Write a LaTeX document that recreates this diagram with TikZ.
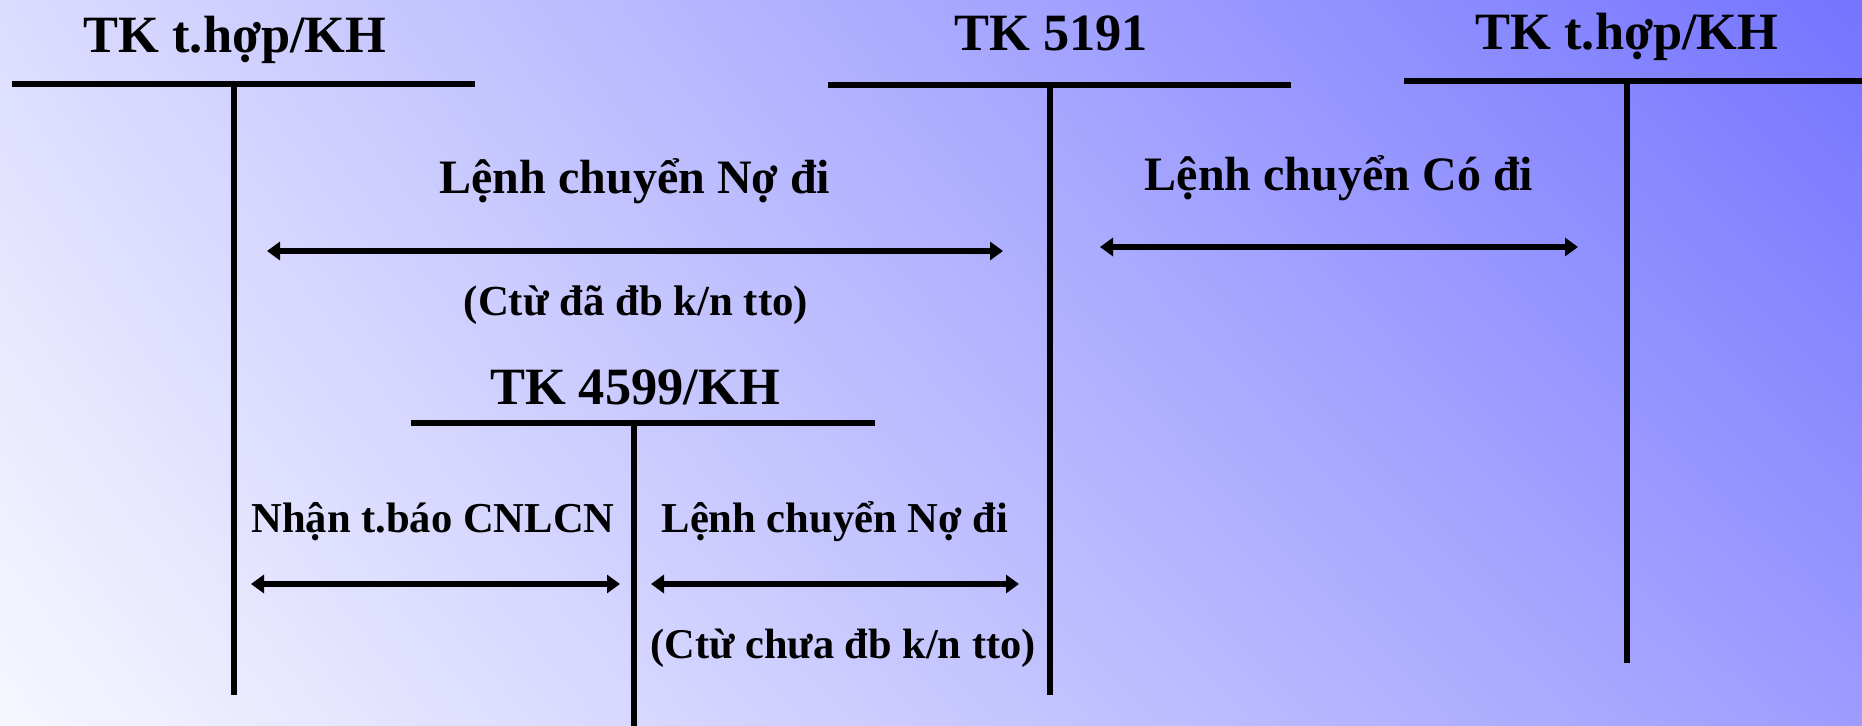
\documentclass[tikz,border=0pt]{standalone}
\usepackage{fontspec}
\setmainfont{Liberation Serif}
\usetikzlibrary{arrows.meta,shadings}
\definecolor{bgul}{RGB}{220,220,255}
\definecolor{bgur}{RGB}{116,116,255}
\definecolor{bgll}{RGB}{247,247,255}
\definecolor{bglr}{RGB}{156,156,255}
\tikzset{
  acctitle/.style={font=\fontsize{26.2}{30}\selectfont\bfseries, anchor=base, inner sep=0pt},
  bigtxt/.style={font=\fontsize{24}{28}\selectfont\bfseries, anchor=base, inner sep=0pt},
  smalltxt/.style={font=\fontsize{21.3}{25}\selectfont\bfseries, anchor=base, inner sep=0pt},
  tbar/.style={line width=3pt},
  tstem/.style={line width=3pt},
  flow/.style={{Triangle[length=6.5pt,width=9pt]}-{Triangle[length=6.5pt,width=9pt]}, line width=2.6pt}
}

\begin{document}
\begin{tikzpicture}[x=0.5pt, y=-0.5pt]
            \useasboundingbox (0,0) rectangle (1862,726);
            \shade[upper left=bgul, upper right=bgur, lower left=bgll, lower right=bglr] (0,0) rectangle (1862,726);

            % T accounts
            \node [acctitle] (kh1) at (235,53) {TK t.hợp/KH};
            \draw[tbar] (12,84) -- (475,84);
            \draw[tstem] (234,84) -- (234,695);

            \node [acctitle] (tk5191) at (1051,51) {TK 5191};
            \draw[tbar] (828,85) -- (1291,85);
            \draw[tstem] (1050,85) -- (1050,695);

            \node [acctitle] (kh2) at (1627,50) {TK t.hợp/KH};
            \draw[tbar] (1404,81) -- (1862,81);
            \draw[tstem] (1627,81) -- (1627,663);

            \node [acctitle] (tk4599) at (635,405) {TK 4599/KH};
            \draw[tbar] (411,423) -- (875,423);
            \draw[tstem] (634,423) -- (634,726);

            % flows
            \coordinate (no1a) at (267,251);
            \coordinate (no1b) at (1003,251);
            \draw[flow] (no1a) -- (no1b);
            \node [bigtxt] (lcno1) at (635,194) {Lệnh chuyển Nợ đi};
            \node [smalltxt, font=\fontsize{21.4}{25}\selectfont\bfseries] (ctu1) at (636,316) {(Ctừ đã đb k/n tto)};

            \coordinate (coa) at (1100,247);
            \coordinate (cob) at (1578,247);
            \draw[flow] (coa) -- (cob);
            \node [bigtxt] (lcco) at (1339,191) {Lệnh chuyển Có đi};

            \coordinate (tba) at (251,584);
            \coordinate (tbb) at (620,584);
            \draw[flow] (tba) -- (tbb);
            \node [smalltxt] (nhantb) at (433,532) {Nhận t.báo CNLCN};

            \coordinate (no2a) at (651,584);
            \coordinate (no2b) at (1019,584);
            \draw[flow] (no2a) -- (no2b);
            \node [smalltxt, font=\fontsize{21.2}{25}\selectfont\bfseries] (ctu2) at (843,658) {(Ctừ chưa đb k/n tto)};
            \node [smalltxt] (lcno2) at (835,532) {Lệnh chuyển Nợ đi};
\end{tikzpicture}
\end{document}
